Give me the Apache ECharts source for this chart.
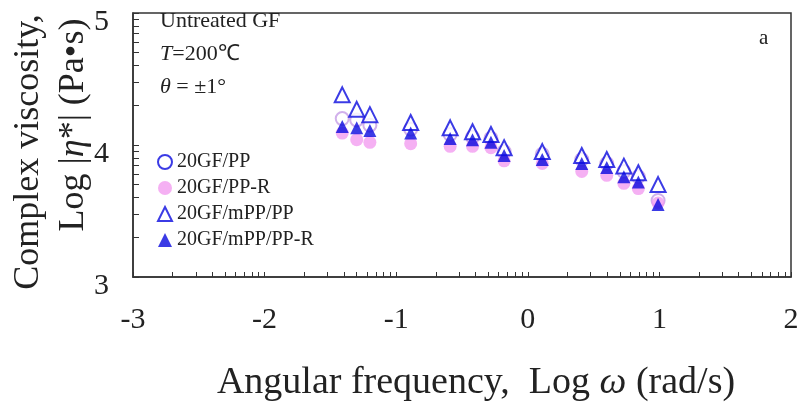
<!DOCTYPE html>
<html>
<head>
<meta charset="utf-8">
<script src="https://cdn.jsdelivr.net/npm/echarts@6/dist/echarts.min.js"></script>
<style>
html,body{margin:0;padding:0;background:#fff;}
#chart{width:803px;height:406px;}
</style>
</head>
<body>
<div id="chart"></div>
<script>
// ---- data ----
var logOmega = [-1.41, -1.30, -1.20, -0.89, -0.59, -0.42, -0.28, -0.18, 0.11, 0.41, 0.60, 0.73, 0.84, 0.99];
var gfPP      = [4.20, 4.19, 4.15, 4.12, 4.08, 4.06, 4.05, 3.95, 3.93, 3.89, 3.86, 3.80, 3.76, 3.58];
var gfPPR     = [4.09, 4.04, 4.02, 4.01, 3.99, 3.99, 3.98, 3.88, 3.86, 3.80, 3.77, 3.71, 3.67, 3.56];
var gfmPPPP   = [4.38, 4.27, 4.23, 4.17, 4.13, 4.10, 4.08, 3.98, 3.95, 3.92, 3.89, 3.84, 3.79, 3.70];
var gfmPPPPR  = [4.14, 4.13, 4.11, 4.09, 4.05, 4.04, 4.02, 3.92, 3.89, 3.86, 3.83, 3.76, 3.72, 3.55];
var seriesNames = ['20GF/PP', '20GF/PP-R', '20GF/mPP/PP', '20GF/mPP/PP-R'];
var xMajor = [-3, -2, -1, 0, 1, 2];
var yMajor = [3, 4, 5];
var minorFactors = [2, 3, 4, 5, 6, 7, 8, 9];

function logTicks(majors) {
  var t = [];
  for (var i = 0; i < majors.length; i++) {
    t.push(majors[i]);
    if (i < majors.length - 1) {
      for (var j = 0; j < minorFactors.length; j++) t.push(majors[i] + Math.log10(minorFactors[j]));
    }
  }
  return t;
}
function pairs(ys) { return logOmega.map(function (x, i) { return [x, ys[i]]; }); }

var BLUE = '#0a0ade';
var PINK = '#f29cf0';
var LAV = '#c59ce6';
var serif = '"Liberation Serif", "Times New Roman", serif';

var chart = echarts.init(document.getElementById('chart'));
chart.setOption({
  animation: false,
  backgroundColor: '#fff',
  grid: { left: 133, right: 12, top: 13, bottom: 129, show: true, borderColor: '#333', borderWidth: 1.5, backgroundColor: 'transparent' },
  xAxis: {
    type: 'value', min: -3, max: 2, interval: 1,
    axisLine: { onZero: false, lineStyle: { color: '#333', width: 1.5 } },
    axisTick: { inside: true, length: 5, customValues: logTicks(xMajor), lineStyle: { color: '#333', width: 1 } },
    axisLabel: { customValues: xMajor, margin: 28, fontSize: 30, fontFamily: serif, color: '#222' },
    splitLine: { show: false }
  },
  yAxis: {
    type: 'value', min: 3, max: 5, interval: 1,
    axisLine: { onZero: false, lineStyle: { color: '#333', width: 1.5 } },
    axisTick: { inside: true, length: 6, customValues: logTicks(yMajor), lineStyle: { color: '#333', width: 1 } },
    axisLabel: { customValues: yMajor, margin: 24, fontSize: 30, fontFamily: serif, color: '#222', verticalAlign: 'top', lineHeight: 18 },
    splitLine: { show: false }
  },
  legend: {
    orient: 'vertical', left: 152, top: 147, itemWidth: 14, itemHeight: 14, itemGap: 6,
    textStyle: { fontFamily: serif, fontSize: 20, color: '#222', lineHeight: 20 },
    data: [
      { name: seriesNames[0], icon: 'emptyCircle', itemStyle: { color: BLUE, borderColor: BLUE, borderWidth: 2 } },
      { name: seriesNames[1], icon: 'circle', itemStyle: { color: PINK } },
      { name: seriesNames[2], icon: 'emptyTriangle', itemStyle: { color: BLUE, borderColor: BLUE, borderWidth: 2 } },
      { name: seriesNames[3], icon: 'triangle', itemStyle: { color: BLUE } }
    ]
  },
  series: [
    { name: seriesNames[0], type: 'scatter', symbol: 'emptyCircle', symbolSize: 13, data: pairs(gfPP),
      itemStyle: { color: LAV, borderColor: LAV, borderWidth: 1.5 } },
    { name: seriesNames[1], type: 'scatter', symbol: 'circle', symbolSize: 13, data: pairs(gfPPR),
      itemStyle: { color: PINK } },
    { name: seriesNames[2], type: 'scatter', symbol: 'emptyTriangle', symbolSize: 15, data: pairs(gfmPPPP),
      itemStyle: { color: BLUE, borderColor: BLUE, borderWidth: 2.2 } },
    { name: seriesNames[3], type: 'scatter', symbol: 'triangle', symbolSize: 13, data: pairs(gfmPPPPR),
      itemStyle: { color: BLUE } }
  ],
  graphic: [
    { type: 'text', left: 160, top: 10, style: { text: 'Untreated GF', fontFamily: serif, fontSize: 22, fill: '#222' } },
    { type: 'text', left: 160, top: 43, style: { text: '{i|T}=200℃', fontFamily: serif, fontSize: 22, fill: '#222',
        rich: { i: { fontStyle: 'italic', fontFamily: serif, fontSize: 22 } } } },
    { type: 'text', left: 160, top: 76, style: { text: '{i|θ} = ±1°', fontFamily: serif, fontSize: 22, fill: '#222',
        rich: { i: { fontStyle: 'italic', fontFamily: serif, fontSize: 22 } } } },
    { type: 'text', left: 759, top: 28, style: { text: 'a', fontFamily: serif, fontSize: 21, fill: '#222' } },
    { type: 'text', x: 476, y: 383, style: { text: 'Angular frequency,\u00a0 Log {i|ω} (rad/s)', fontFamily: serif, fontSize: 38, fill: '#222',
        align: 'center', verticalAlign: 'middle', rich: { i: { fontStyle: 'italic', fontFamily: serif, fontSize: 38 } } } },
    { type: 'text', x: 29, y: 152, rotation: Math.PI / 2, style: { text: 'Complex viscosity,', fontFamily: serif, fontSize: 36, fill: '#222',
        align: 'center', verticalAlign: 'middle' } },
    { type: 'text', x: 74, y: 125, rotation: Math.PI / 2, style: { text: 'Log |{i|η}*| (Pa•s)', fontFamily: serif, fontSize: 36, fill: '#222',
        align: 'center', verticalAlign: 'middle', rich: { i: { fontStyle: 'italic', fontFamily: serif, fontSize: 36 } } } }
  ]
});
</script>
</body>
</html>
